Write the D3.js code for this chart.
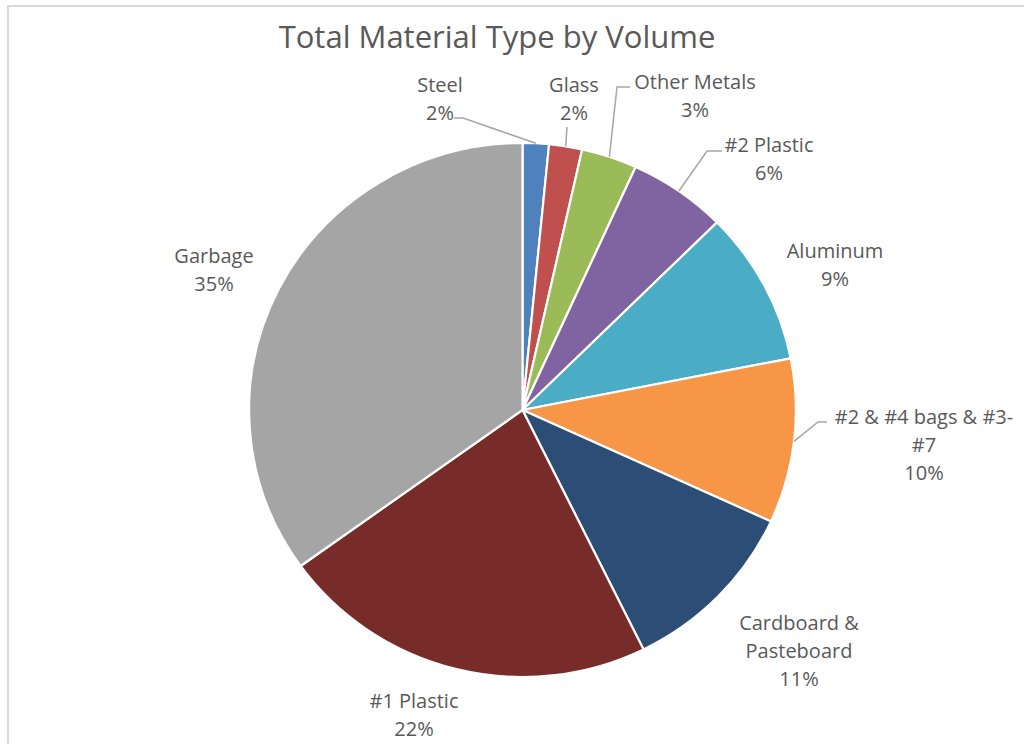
<!DOCTYPE html>
<html><head><meta charset="utf-8">
<script src="https://cdn.jsdelivr.net/npm/d3@7"></script>
<style>body{margin:0;background:#fff}svg{display:block}</style>
</head><body>
<svg id="c" width="1024" height="744"></svg>
<script>
const categories = ["Steel","Glass","Other Metals","#2 Plastic","Aluminum","#2 & #4 bags & #3-\n#7","Cardboard &\nPasteboard","#1 Plastic","Garbage"];
const values = [1.55,1.95,3.29,5.81,9.3,9.95,10.85,22.37,34.93];
const colors = ["#4F81BD","#C0504D","#9BBB59","#8064A2","#4BACC6","#F79646","#2C4D75","#772C2A","#A5A5A5"];
// label layout (text block: center x, first-line center y) and leader elbows
const labelLayout = [
  {x:440,y:84, leader:[[454,118],[463,118]]},
  {x:574,y:84, leader:[[567,127]]},
  {x:695,y:81, leader:[[630,87],[617,87]]},
  {x:769,y:144, leader:[[722,151],[707,151]]},
  {x:835,y:250, leader:null},
  {x:924,y:416, leader:[[827,422],[818,422]]},
  {x:799,y:622, leader:null},
  {x:414,y:700, leader:null},
  {x:214,y:255, leader:null}
];

const svg = d3.select("#c");
const W=1024,H=744;
// frame
svg.append("rect").attr("x",7).attr("y",5).attr("width",W).attr("height",2).attr("fill","#d9d9d9");
svg.append("rect").attr("x",7).attr("y",5).attr("width",2).attr("height",H).attr("fill","#d9d9d9");

svg.append("text").attr("x",497).attr("y",36).attr("text-anchor","middle")
  .attr("dominant-baseline","central")
  .style("font-family","'Open Sans'").style("font-size","31px").style("fill","#595959")
  .text("Total Material Type by Volume");

const cx=522.5, cy=410, R=267, sx=1.024;
const pie = d3.pie().sort(null).value(d=>d)(values);
const arc = d3.arc().innerRadius(0).outerRadius(R);
const g = svg.append("g").attr("transform",`translate(${cx},${cy}) scale(${sx},1)`);
g.selectAll("path").data(pie).join("path")
  .attr("d",arc).attr("fill",(d,i)=>colors[i])
  .attr("stroke","#fff").attr("stroke-width",2.2).attr("vector-effect","non-scaling-stroke")
  .attr("stroke-linejoin","round");

const total = d3.sum(values);
// leaders
pie.forEach((d,i)=>{
  const L = labelLayout[i];
  if(!L.leader) return;
  const a = (d.startAngle+d.endAngle)/2;
  const px = cx + sx*R*Math.sin(a), py = cy - R*Math.cos(a);
  const pts = L.leader.concat([[px,py]]);
  svg.append("path").attr("d",d3.line()(pts)).attr("fill","none")
    .attr("stroke","#a6a6a6").attr("stroke-width",1.5);
});
// labels
pie.forEach((d,i)=>{
  const L = labelLayout[i];
  const lines = categories[i].split("\n").concat([Math.round(d.data/total*100)+"%"]);
  const t = svg.append("text").attr("text-anchor","middle")
    .style("font-family","'Open Sans'").style("font-size","20px").style("fill","#595959");
  lines.forEach((s,k)=>{
    t.append("tspan").attr("x",L.x).attr("y",L.y+k*28).attr("dominant-baseline","central").text(s);
  });
});
</script>
</body></html>
